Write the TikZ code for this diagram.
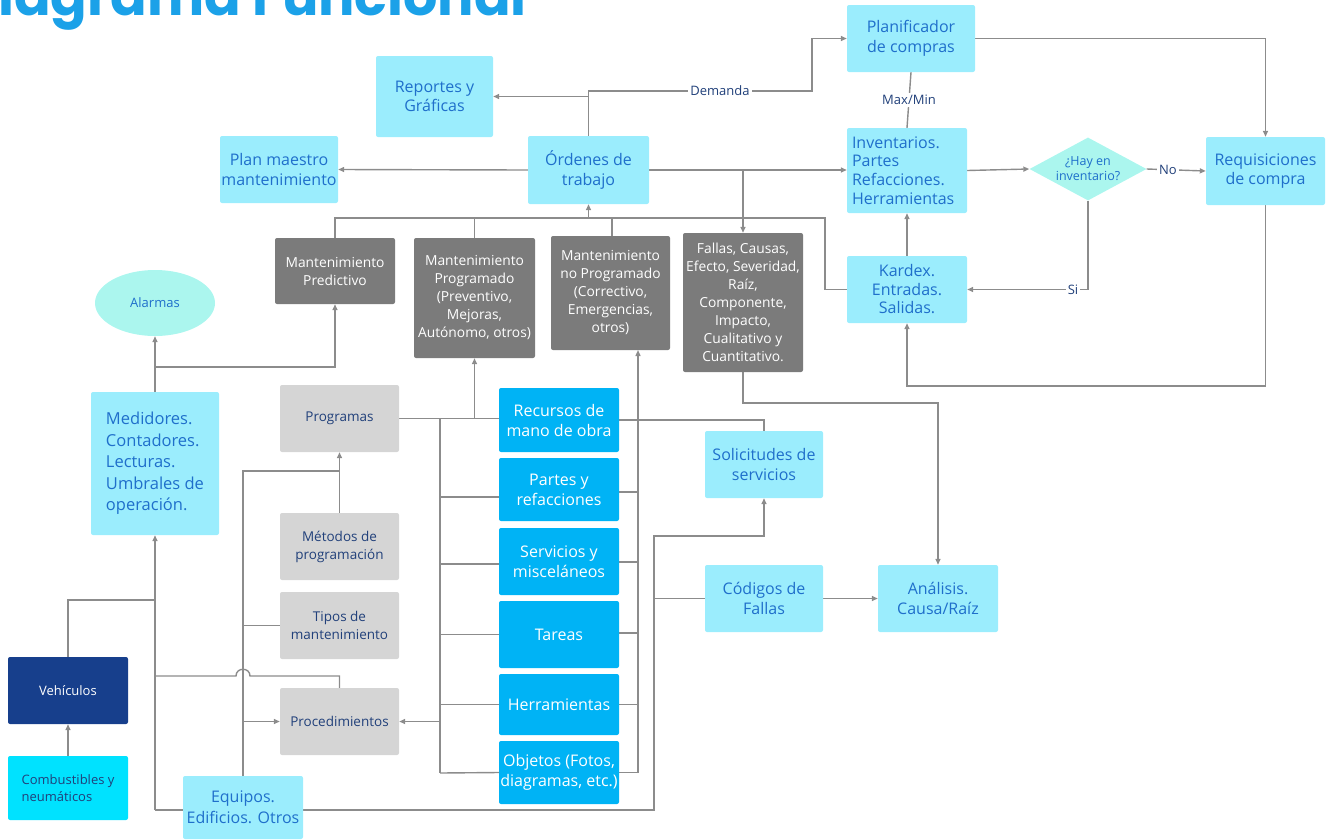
\documentclass[tikz,border=0pt]{standalone}
\usepackage{fontspec}
\setmainfont{Open Sans}
\newfontfamily\titlef{Poppins}
\usetikzlibrary{arrows.meta,shapes.geometric,calc}
\definecolor{cyanL}{HTML}{9BEDFD}
\definecolor{txtB}{HTML}{1F6FCB}
\definecolor{grayD}{HTML}{7B7B7B}
\definecolor{grayL}{HTML}{D5D5D5}
\definecolor{navyT}{HTML}{21407A}
\definecolor{blueB}{HTML}{00B3F5}
\definecolor{vehB}{HTML}{173F8C}
\definecolor{combC}{HTML}{00E2FF}
\definecolor{aquaL}{HTML}{ABF6EE}
\definecolor{lineG}{HTML}{8C8C8C}
\definecolor{titleB}{HTML}{1BA1E8}
\pgfdeclarelayer{bg}
\pgfsetlayers{bg,main}
\tikzset{
  box/.style={rectangle, rounded corners=2pt, inner sep=0pt, align=center},
  lc/.style={box, fill=cyanL, text=txtB, font=\fontsize{16}{19.5}\selectfont},
  dg/.style={box, fill=grayD, text=white, font=\fontsize{13.8}{18}\selectfont},
  lg/.style={box, fill=grayL, text=navyT, font=\fontsize{13.5}{18}\selectfont},
  bb/.style={box, fill=blueB, text=white, font=\fontsize{16}{20}\selectfont},
  conn/.style={draw=lineG, line width=1.4pt},
  arr/.style={conn, -{Triangle[length=6pt,width=5pt]}},
  lbl/.style={fill=white, text=navyT, font=\fontsize{13}{15}\selectfont, inner sep=2pt},
  sz/.style 2 args={minimum width=#1, minimum height=#2}
}
\begin{document}
\begin{tikzpicture}[x=1pt,y=-1pt]
\useasboundingbox (0,0) rectangle (1331,839);
\clip (0,0) rectangle (1331,839);
% title
\node[anchor=base east, inner sep=0pt, text=titleB, font=\titlef\bfseries\fontsize{54}{54}\selectfont] (title) at (527,15) {Diagrama Funcional};

% top row
\node[lc, sz={128}{67}] (plan) at (911,38.5) {Planificador\\de compras};
\node[lc, sz={117}{81}] (rep) at (434.5,96.5) {Reportes y\\Gráficas};
\node[lc, sz={118}{67}] (pm) at (279,169.5) {Plan maestro\\mantenimiento};
\node[lc, sz={121}{68}] (ord) at (588.5,170) {Órdenes de\\trabajo};
\node[lc, sz={120}{85}, align=left, text width=110pt, inner xsep=5pt, font=\fontsize{16}{18.7}\selectfont] (inv) at (907,170.5) {Inventarios.\\Partes\\Refacciones.\\Herramientas};
\node[diamond, fill=aquaL, inner sep=0pt, sz={117}{63}] (dia) at (1088,169) {};
\node[text=txtB, align=center, font=\fontsize{12.5}{15}\selectfont] (diat) at (dia) {¿Hay en\\inventario?};
\node[lc, sz={119}{68}] (req) at (1265.5,171) {Requisiciones\\de compra};
\node[lc, sz={120}{67}, font=\fontsize{16}{18.5}\selectfont] (kar) at (907,289.5) {Kardex.\\Entradas.\\Salidas.};

% dark gray
\node[dg, sz={120}{66}] (pred) at (335,271) {Mantenimiento\\Predictivo};
\node[dg, sz={121}{120}] (prog) at (474.5,298) {Mantenimiento\\Programado\\(Preventivo,\\Mejoras,\\Autónomo, otros)};
\node[dg, sz={119}{114}] (noprog) at (610.5,293) {Mantenimiento\\no Programado\\(Correctivo,\\Emergencias,\\otros)};
\node[dg, sz={120}{139}] (fal) at (743,302.5) {Fallas, Causas,\\Efecto, Severidad,\\Raíz,\\Componente,\\Impacto,\\Cualitativo y\\Cuantitativo.};

% left
\node[ellipse, fill=aquaL, text=txtB, inner sep=0pt, sz={120}{66}, font=\fontsize{13}{15}\selectfont] (alarm) at (155,303) {Alarmas};
\node[lc, sz={128}{143}, align=left, font=\fontsize{16.5}{21.5}\selectfont] (med) at (155,463.5) {Medidores.\\Contadores.\\Lecturas.\\Umbrales de\\operación.};
\node[box, fill=vehB, text=white, sz={120}{67}, font=\fontsize{13}{16}\selectfont] (veh) at (68,690.5) {Vehículos};
\node[box, fill=combC, text=navyT, sz={120}{64}, align=left, font=\fontsize{13}{17}\selectfont] (comb) at (68,788) {Combustibles y\\neumáticos};
\node[lc, sz={120}{63}, font=\fontsize{16}{21}\selectfont] (equ) at (243,807.5) {Equipos.\\Edificios. Otros};

% light gray
\node[lg, sz={119}{67}] (progs) at (339.5,418.5) {Programas};
\node[lg, sz={119}{67}] (met) at (339.5,546.5) {Métodos de\\programación};
\node[lg, sz={119}{67}] (tip) at (339.5,625.5) {Tipos de\\mantenimiento};
\node[lg, sz={119}{67}] (proc) at (339.5,721.5) {Procedimientos};

% blue
\node[bb, sz={120}{64}] (rec) at (559,420) {Recursos de\\mano de obra};
\node[bb, sz={120}{63}] (par) at (559,489.5) {Partes y\\refacciones};
\node[bb, sz={120}{67}] (ser) at (559,561.5) {Servicios y\\misceláneos};
\node[bb, sz={120}{67}] (tar) at (559,634.5) {Tareas};
\node[bb, sz={120}{61}] (her) at (559,704.5) {Herramientas};
\node[bb, sz={120}{63}] (obj) at (559,772.5) {Objetos (Fotos,\\diagramas, etc.)};

% right-middle
\node[lc, sz={118}{67}] (sol) at (764,464.5) {Solicitudes de\\servicios};
\node[lc, sz={118}{67}] (cod) at (764,598.5) {Códigos de\\Fallas};
\node[lc, sz={120}{67}] (ana) at (938,598.5) {Análisis.\\Causa/Raíz};

\begin{pgfonlayer}{bg}
% Ordenes connections
\draw[arr] (ord.north) |- (812,91) |- (plan.west);
\node[lbl] (dem) at (720,91) {Demanda};
\draw[arr] (ord.north |- rep.east) -- (rep.east);
\draw[arr] (ord.west) -- (pm.east);
\draw[arr] (ord.east) -- (inv.west |- ord.east);
\draw[arr] (fal.north |- ord.east) -- (fal.north);
% purchasing
\draw[arr] (plan.east) -| (req.north);
\draw[conn] (plan.south) -- (inv.north);
\node[lbl] (mm) at (909,100) {Max/Min};
\draw[arr] (inv.east) -- (dia.west);
\draw[arr] (dia.east) -- (req.west);
\node[lbl] (no) at (1168,170) {No};
\draw[arr] (dia.south) |- (kar.east);
\node[lbl] (si) at (1073,289.5) {Si};
\draw[arr] (kar.north) -- (inv.south);
\draw[arr] (req.south) -- (req.south |- 0,386) -| (kar.south);
% maintenance bus
\draw[conn] (pred.north) -- (pred.north |- 0,218) -- (825,218) |- (kar.west);
\draw[conn] (prog.north) -- (prog.north |- 0,218);
\draw[conn] (612,236) -- (612,218);
\draw[arr] (ord.south |- 0,218) -- (ord.south);
% medidores
\draw[arr] (med.north) -- (alarm.south);
\draw[arr] (med.north |- 0,367) -| (pred.south);
% programas and blue boxes
\draw[conn] (progs.east) -- (rec.west |- progs.east);
\draw[arr] (prog.south |- progs.east) -- (prog.south);
\draw[conn] (440,418.5) -- (440,773);
\draw[conn] (440,497) -- (par.west |- 0,497);
\draw[conn] (440,564) -- (ser.west |- 0,564);
\draw[conn] (440,634.5) -- (tar.west);
\draw[conn] (440,704.5) -- (her.west);
\draw[conn] (440,773) -- (obj.west);
\draw[arr] (440,721.5) -- (proc.east);
\draw[arr] (638,773) -- (638,350);
\draw[conn] (rec.east) -| (sol.north);
\draw[conn] (par.east |- 0,492) -- (638,492);
\draw[conn] (ser.east |- 0,562) -- (638,562);
\draw[conn] (tar.east |- 0,633) -- (638,633);
\draw[conn] (her.east) -- (638,704.5);
\draw[conn] (obj.east) -- (638,772.5);
% bottom line and solicitudes
\draw[arr] (med.south |- 0,810) -- (med.south);
\draw[arr] (med.south |- 0,810) -- (654,810) -- (654,536) -| (sol.south);
\draw[conn] (654,598.5) -- (cod.west);
\draw[arr] (cod.east) -- (ana.west);
\draw[arr] (fal.south) -- (fal.south |- 0,403) -| (ana.north);
% equipos branch
\draw[arr] (equ.north) -- (243,471) -| (progs.south);
\draw[conn] (met.north) -- (met.north |- 0,471);
\draw[conn] (243,625.5) -- (tip.west);
\draw[arr] (243,721.5) -- (proc.west);
% vehicles
\draw[conn] (155,600) -| (veh.north);
\draw[arr] (comb.north) -- (veh.south);
\draw[conn] (155,676) -- (236,676) .. controls (236,667) and (250,667) .. (250,676) -- (339.5,676) -- (proc.north);
\end{pgfonlayer}
\end{tikzpicture}
\end{document}
